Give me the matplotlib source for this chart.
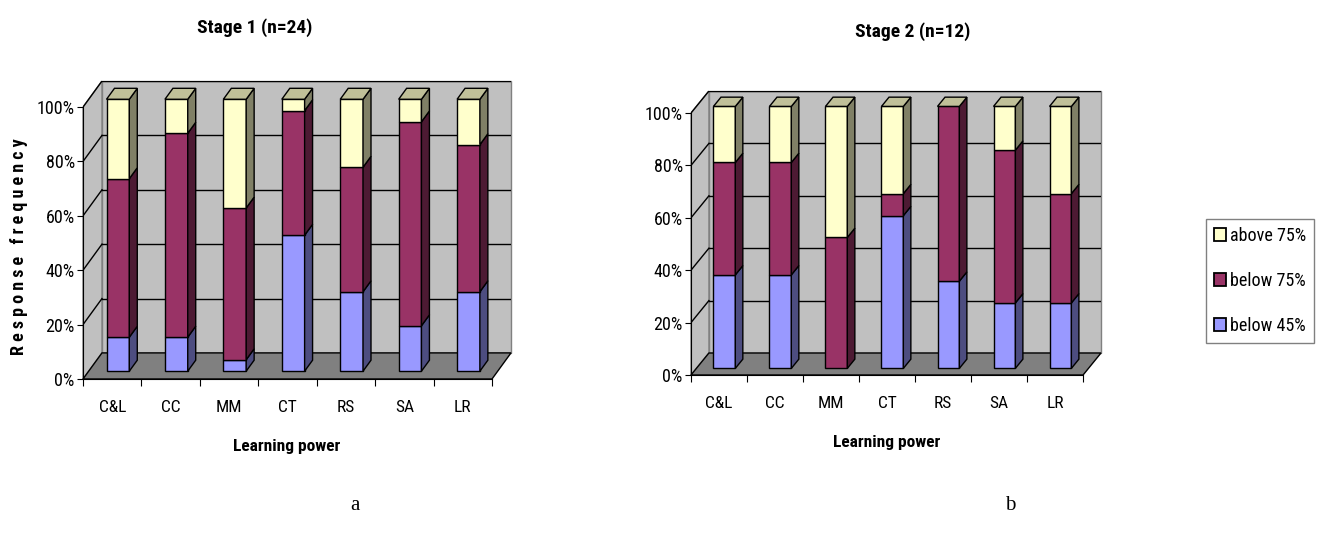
import matplotlib
matplotlib.use("Agg")
import matplotlib.pyplot as plt
from matplotlib.patches import Polygon, Patch
import numpy as np

plt.rcParams['font.family'] = ['Roboto Condensed', 'Archivo Narrow', 'Liberation Sans', 'DejaVu Sans']

categories = ['C&L', 'CC', 'MM', 'CT', 'RS', 'SA', 'LR']
series_names = ['below 45%', 'below 75%', 'above 75%']

# percentages per learning power, stacked bottom to top
stage1_below45 = [12.5, 12.5, 4.2, 50.0, 29.2, 16.7, 29.2]
stage1_below75 = [58.3, 75.0, 55.8, 45.8, 45.8, 75.0, 54.1]
stage1_above75 = [29.2, 12.5, 40.0, 4.2, 25.0, 8.3, 16.7]

stage2_below45 = [35.7, 35.7, 0.0, 58.3, 33.3, 25.0, 25.0]
stage2_below75 = [42.9, 42.9, 50.0, 8.4, 66.7, 58.3, 41.7]
stage2_above75 = [21.4, 21.4, 50.0, 33.3, 0.0, 16.7, 33.3]

front_colors = ['#9999ff', '#993366', '#ffffcc']
side_colors = ['#4d4d80', '#4d1a33', '#808066']
top_color = '#c0c099'

W, H = 1322, 533
fig = plt.figure(figsize=(W / 100, H / 100), dpi=100)


def px_axes(left, bottom_y, width, height):
    # bottom_y is the pixel row (from the top) of the axes bottom
    return fig.add_axes([left / W, (H - bottom_y) / H, width / W, height / H])


def draw_panel(ax, series, dx, dy, bar_t=0.3, bar_d=0.42, width=0.39):
    n = len(categories)
    x0, x1 = -0.5, n - 0.5
    ax.set_xlim(x0, x1 + dx)
    ax.set_ylim(0, 100 + dy)

    # back wall, left wall and floor
    ax.add_patch(Polygon([(x0 + dx, dy), (x1 + dx, dy), (x1 + dx, 100 + dy), (x0 + dx, 100 + dy)],
                         facecolor='#c0c0c0', edgecolor='#808080', lw=1, zorder=0, clip_on=False))
    ax.add_patch(Polygon([(x0, 0), (x0 + dx, dy), (x0 + dx, 100 + dy), (x0, 100)],
                         facecolor='#c0c0c0', edgecolor='#808080', lw=1, zorder=0, clip_on=False))
    for g in range(20, 101, 20):
        ax.plot([x0 + dx, x1 + dx], [g + dy, g + dy], color='black', lw=1, zorder=1)
        ax.plot([x0, x0 + dx], [g, g + dy], color='black', lw=1, zorder=1)
    ax.add_patch(Polygon([(x0, 0), (x1, 0), (x1 + dx, dy), (x0 + dx, dy)],
                         facecolor='#808080', edgecolor='black', lw=1, zorder=1, clip_on=False))

    sx, sy = bar_d * dx, bar_d * dy
    for i in range(n):
        xc = i + bar_t * dx
        base = bar_t * dy
        left, right = xc - width / 2, xc + width / 2
        for k, s in enumerate(series):
            h = s[i]
            if h <= 0:
                continue
            ax.bar(xc, h, bottom=base, width=width, color=front_colors[k],
                   edgecolor='black', lw=1, zorder=3)
            ax.add_patch(Polygon([(right, base), (right + sx, base + sy),
                                  (right + sx, base + h + sy), (right, base + h)],
                                 facecolor=side_colors[k], edgecolor='black', lw=1, zorder=3))
            base += h
        ax.add_patch(Polygon([(left, base), (right, base),
                              (right + sx, base + sy), (left + sx, base + sy)],
                             facecolor=top_color, edgecolor='black', lw=1, zorder=3,
                             clip_on=False))

    for s in ['top', 'right']:
        ax.spines[s].set_visible(False)
    ax.spines['left'].set_bounds(0, 100)
    ax.spines['bottom'].set_bounds(x0, x1)
    ax.spines['left'].set_zorder(4)
    ax.set_facecolor('none')
    ax.set_yticks(range(0, 101, 20))
    ax.set_yticklabels(['%d%%' % v for v in range(0, 101, 20)], fontsize=13)
    ax.set_xticks(np.arange(x0, x1 + 0.01, 1.0))
    ax.set_xticklabels([])
    ax.set_xticks(range(n), minor=True)
    ax.set_xticklabels(categories, minor=True, fontsize=12.5)
    ax.tick_params(axis='x', which='minor', length=0, pad=15)
    ax.tick_params(axis='x', which='major', length=5)
    ax.tick_params(axis='y', length=4, pad=2)


ax1 = px_axes(83, 379, 428, 298)
draw_panel(ax1, [stage1_below45, stage1_below75, stage1_above75], dx=0.325, dy=9.6)
ax2 = px_axes(691, 375, 410, 284)
draw_panel(ax2, [stage2_below45, stage2_below75, stage2_above75], dx=0.32, dy=8.4)

fig.text(255 / W, 1 - 28 / H, 'Stage 1 (n=24)', ha='center', va='center', fontsize=14, fontweight='bold')
fig.text(913 / W, 1 - 32 / H, 'Stage 2 (n=12)', ha='center', va='center', fontsize=14, fontweight='bold')
fig.text(287 / W, 1 - 447 / H, 'Learning power', ha='center', va='center', fontsize=12.5, fontweight='bold')
fig.text(887 / W, 1 - 443 / H, 'Learning power', ha='center', va='center', fontsize=12.5, fontweight='bold')
fig.text(19 / W, 1 - 247 / H, ' '.join('Response frequency'), ha='center', va='center',
         rotation=90, fontsize=13, fontweight='bold')

fig.text(355 / W, 1 - 505 / H, 'a', ha='center', va='center', fontsize=15, family='Liberation Serif')
fig.text(1010 / W, 1 - 505 / H, 'b', ha='center', va='center', fontsize=15, family='Liberation Serif')

handles = [Patch(facecolor=front_colors[k], edgecolor='black', lw=1.3) for k in (2, 1, 0)]
labels = [series_names[k] for k in (2, 1, 0)]
leg = fig.legend(handles, labels, loc='center', bbox_to_anchor=(1260 / W, 1 - 281 / H),
                 fontsize=13, frameon=True, fancybox=False, edgecolor='#606060',
                 handlelength=0.65, handleheight=0.75, handletextpad=0.25, labelspacing=1.5,
                 borderpad=0.45, borderaxespad=0)
leg.get_frame().set_linewidth(1)

fig.savefig('out.png', dpi=100)
